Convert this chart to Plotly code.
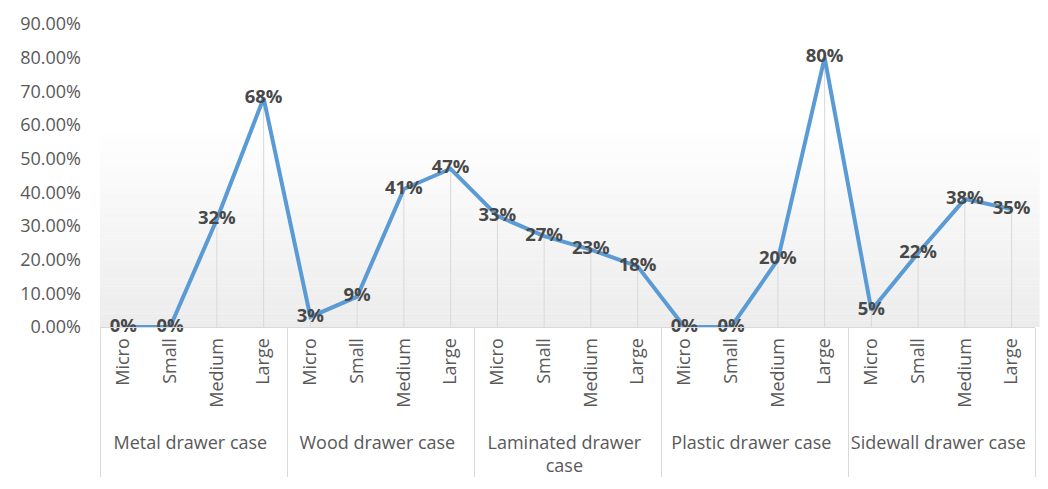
import plotly.graph_objects as go

groups = ["Metal drawer case", "Wood drawer case", "Laminated drawer<br>case",
          "Plastic drawer case", "Sidewall drawer case"]
sizes = ["Micro", "Small", "Medium", "Large"]
values = [
    [0.00, 0.00, 0.32, 0.68],   # Metal
    [0.03, 0.09, 0.41, 0.47],   # Wood
    [0.33, 0.27, 0.23, 0.18],   # Laminated
    [0.00, 0.00, 0.20, 0.80],   # Plastic
    [0.05, 0.22, 0.38, 0.35],   # Sidewall
]
y_ticks = [i / 10 for i in range(10)]

PAD = "\u00a0\u00a0"  # extra room below the rotated size labels
outer, inner, yv = [], [], []
for g, vals in zip(groups, values):
    for s, v in zip(sizes, vals):
        outer.append(g)
        inner.append(PAD + s)
        yv.append(v)
labels = [f"{round(v * 100)}%" for v in yv]

FONT = "'Open Sans', 'Noto Sans', sans-serif"
GREY = "#595959"

fig = go.Figure()

# drop lines (below the main line)
fig.add_trace(go.Scatter(
    x=[outer, inner], y=yv, mode="markers",
    marker=dict(opacity=0, size=1),
    error_y=dict(type="data", symmetric=False, array=[0] * len(yv),
                 arrayminus=yv, width=0, color="#D9D9D9", thickness=1),
    hoverinfo="skip", showlegend=False,
))

fig.add_trace(go.Scatter(
    x=[outer, inner], y=yv, mode="lines+text",
    line=dict(color="#5B9BD5", width=4),
    text=labels, textposition="middle center",
    textfont=dict(family=FONT, size=18.5, color="#484848", weight="bold"),
    showlegend=False, cliponaxis=False,
))

# subtle vertical gradient behind the plot area
n = 30
top = 0.667
for i in range(n):
    t = (i + 0.5) / n
    c = int(round(255 - (255 - 236) * t))
    fig.add_shape(type="rect", xref="paper", yref="paper",
                  x0=0, x1=1.005, y0=top * (1 - (i + 1) / n), y1=top * (1 - i / n),
                  fillcolor=f"rgb({c},{c},{c})", line=dict(width=0), layer="below")

fig.update_layout(
    width=1048, height=489,
    margin=dict(l=100, r=13, t=24, b=162),
    paper_bgcolor="white", plot_bgcolor="white",
    font=dict(family=FONT, size=18, color=GREY),
)
fig.update_yaxes(
    range=[0, 0.9], tickvals=y_ticks, tickformat=".2%",
    showgrid=False, zeroline=False, showline=False,
    ticklabelstandoff=18,
    tickfont=dict(family=FONT, size=18, color=GREY),
)
fig.update_xaxes(
    type="multicategory", tickangle=-90, range=[-0.5, 19.5],
    showgrid=False, showline=True, linecolor="#D9D9D9", linewidth=1,
    ticklabelstandoff=3,
    showdividers=True, dividercolor="#D9D9D9", dividerwidth=1,
    tickfont=dict(family=FONT, size=18, color=GREY),
)

fig.write_html("out.html")
